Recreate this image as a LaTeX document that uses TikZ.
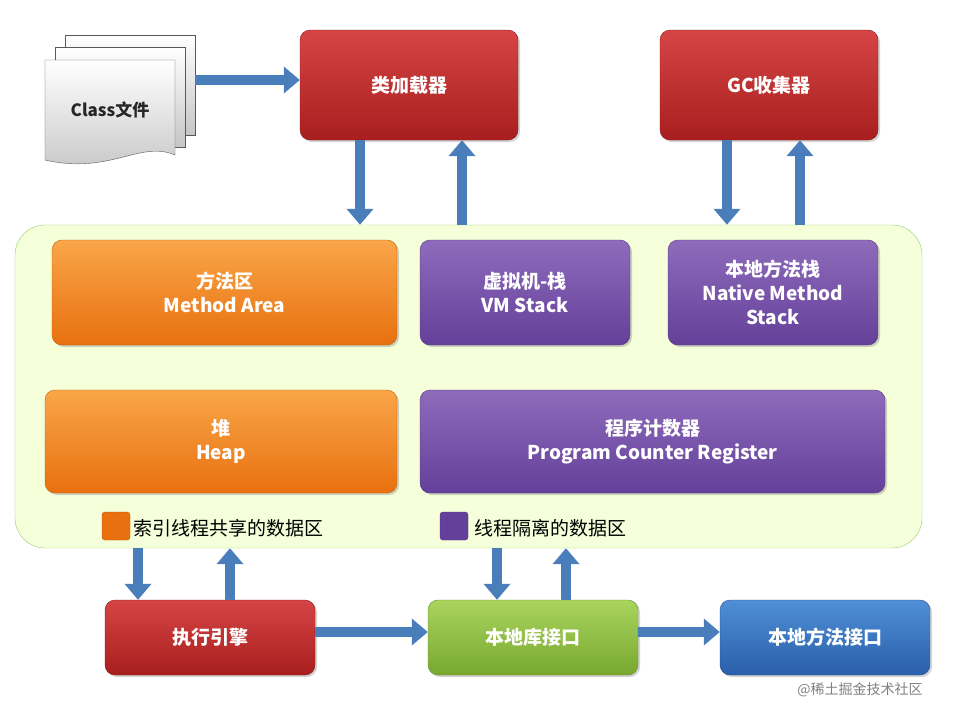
\documentclass[tikz,border=0pt]{standalone}
\usepackage{fontspec}
\setmainfont{Noto Sans CJK SC}
\usetikzlibrary{arrows.meta,shadows}
\definecolor{arr}{HTML}{4A7EBB}
\definecolor{rt}{HTML}{D64545}\definecolor{rb}{HTML}{A81E1E}
\definecolor{ot}{HTML}{F9A649}\definecolor{ob}{HTML}{E8700F}
\definecolor{pt}{HTML}{8E6BBB}\definecolor{pb}{HTML}{64409A}
\definecolor{gt}{HTML}{A9D45E}\definecolor{gb}{HTML}{78A830}
\definecolor{bt}{HTML}{4F8FD6}\definecolor{bb}{HTML}{2A5FAA}
\begin{document}
\begin{tikzpicture}[x=1pt,y=-1pt,
 box/.style={rounded corners=10pt,align=center,text=white,font=\bfseries\fontsize{19}{24}\selectfont,drop shadow={opacity=0.35,shadow xshift=2pt,shadow yshift=-2pt}},
 red/.style={box,top color=rt,bottom color=rb,draw=rb!80!black},
 org/.style={box,top color=ot,bottom color=ob,draw=ob!85!black},
 pur/.style={box,top color=pt,bottom color=pb,draw=pb!85!black},
 grn/.style={box,top color=gt,bottom color=gb,draw=gb!85!black},
 blu/.style={box,top color=bt,bottom color=bb,draw=bb!85!black},
 ba/.style={line width=10pt,arr,-{Triangle[width=26pt,length=16pt]}}]
\useasboundingbox (0,0) rectangle (960,720);
% Class file stack
\foreach \dx/\dy in {20/-25,10/-13}{
 \draw[gray!70!black,top color=white,bottom color=gray!45] (45+\dx,60+\dy) rectangle (175+\dx,160+\dy);}
\draw[gray!70!black,top color=white,bottom color=gray!45] (45,60) -- (175,60) -- (175,155) .. controls (140,140) and (110,175) .. (45,160) -- cycle;
\node[font=\bfseries\fontsize{17}{20}\selectfont,text=black!85] (cf) at (110,110) {Class文件};
\coordinate (cfr) at (195,80);
% top boxes
\node[red,minimum width=218pt,minimum height=110pt] (cl) at (409,85) {类加载器};
\node[red,minimum width=218pt,minimum height=110pt] (gc) at (769,85) {GC收集器};
% panel
\node[rounded corners=30pt,fill=green!25!yellow!15!white,draw=green!40!olive!60,minimum width=907pt,minimum height=323pt] (panel) at (468.5,386.5) {};
\node[org,minimum width=345pt,minimum height=105pt] (ma) at (224.5,292.5) {方法区\\Method Area};
\node[pur,minimum width=210pt,minimum height=105pt] (vm) at (525,292.5) {虚拟机-栈\\VM Stack};
\node[pur,minimum width=210pt,minimum height=105pt] (ns) at (773,292.5) {本地方法栈\\Native Method\\Stack};
\node[org,minimum width=352pt,minimum height=103pt] (hp) at (221,441.5) {堆\\Heap};
\node[pur,minimum width=465pt,minimum height=103pt] (pc) at (652.5,441.5) {程序计数器\\Program Counter Register};
\node[rounded corners=3pt,fill=ob,draw=ob!80!black,minimum size=28pt] (l1) at (116,526) {};
\node[anchor=west,font=\fontsize{19}{22}\selectfont] (t1) at (130,528) {索引线程共享的数据区};
\node[rounded corners=3pt,fill=pb,draw=pb!80!black,minimum size=28pt] (l2) at (454,526) {};
\node[anchor=west,font=\fontsize{19}{22}\selectfont] (t2) at (471,528) {线程隔离的数据区};
% bottom boxes
\node[red,minimum width=210pt,minimum height=75pt] (ee) at (210,637.5) {执行引擎};
\node[grn,minimum width=210pt,minimum height=75pt] (nl) at (533,637.5) {本地库接口};
\node[blu,minimum width=210pt,minimum height=75pt] (nm) at (825,637.5) {本地方法接口};
\node[gray,font=\fontsize{14}{16}\selectfont] (wm) at (860,690) {@稀土掘金技术社区};
% arrows
\draw[ba] (cfr) -- (cl.west |- cfr);
\draw[ba] (cl.south -| 360,0) -- (panel.north -| 360,0);
\draw[ba] (panel.north -| 462,0) -- (cl.south -| 462,0);
\draw[ba] (gc.south -| 727,0) -- (panel.north -| 727,0);
\draw[ba] (panel.north -| 800,0) -- (gc.south -| 800,0);
\draw[ba] (panel.south -| 138,0) -- (ee.north -| 138,0);
\draw[ba] (ee.north -| 230,0) -- (panel.south -| 230,0);
\draw[ba] (panel.south -| 497,0) -- (nl.north -| 497,0);
\draw[ba] (nl.north -| 566,0) -- (panel.south -| 566,0);
\draw[ba] (ee.east |- 0,632) -- (nl.west |- 0,632);
\draw[ba] (nl.east |- 0,632) -- (nm.west |- 0,632);
\end{tikzpicture}
\end{document}
